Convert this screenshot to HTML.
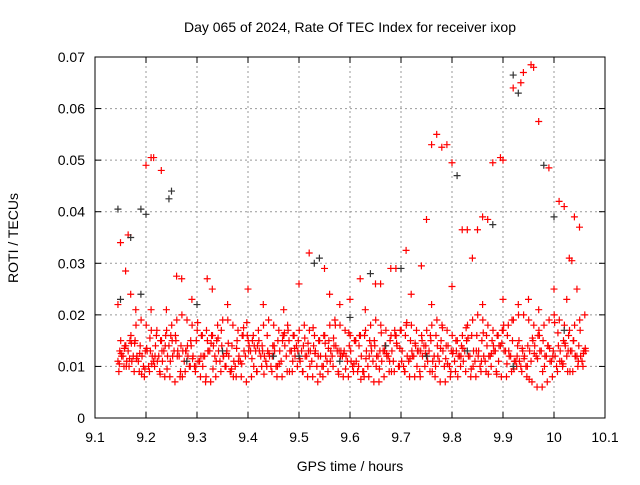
<!DOCTYPE html>
<html><head><meta charset="utf-8">
<style>
body{margin:0;background:#fff;}
svg text{font-family:"Liberation Sans",sans-serif;font-size:14px;fill:#000;}
</style></head>
<body>
<svg id="chart" width="640" height="480" xmlns="http://www.w3.org/2000/svg">
<text x="350" y="32" text-anchor="middle">Day 065 of 2024, Rate Of TEC Index for receiver ixop</text>
<text x="350" y="471" text-anchor="middle">GPS time / hours</text>
<text transform="translate(18,238) rotate(-90)" text-anchor="middle">ROTI / TECUs</text>
<g id="grid"></g>
<g id="marks"></g>
<rect x="95" y="57" width="510" height="361" fill="none" stroke="#000" stroke-width="1"/>
<g id="ticks"></g>
</svg>
<script>
const xTicks=[9.1,9.2,9.3,9.4,9.5,9.6,9.7,9.8,9.9,10,10.1];
const xTickLabels=["9.1","9.2","9.3","9.4","9.5","9.6","9.7","9.8","9.9","10","10.1"];
const yTicks=[0,0.01,0.02,0.03,0.04,0.05,0.06,0.07];
const yTickLabels=["0","0.01","0.02","0.03","0.04","0.05","0.06","0.07"];
const trackStart=9.145, trackStep=0.01;
const track1=[0.011,0.012,0.013,0.012,0.011,0.010,0.010,0.011,0.012,0.013,0.014,0.013,0.012,0.011,0.010,0.010,0.011,0.012,0.013,0.012,0.011,0.010,0.009,0.010,0.011,0.012,0.013,0.013,0.012,0.011,0.010,0.010,0.011,0.012,0.013,0.014,0.013,0.012,0.011,0.010,0.010,0.011,0.012,0.013,0.012,0.011,0.010,0.009,0.009,0.010,0.011,0.012,0.013,0.012,0.011,0.010,0.010,0.011,0.012,0.013,0.014,0.013,0.012,0.011,0.010,0.010,0.011,0.012,0.013,0.012,0.011,0.010,0.011,0.012,0.013,0.014,0.013,0.012,0.011,0.010,0.010,0.011,0.012,0.013,0.012,0.011,0.010,0.011,0.012,0.013,0.012,0.011];
const track2=[0.013,0.014,0.015,0.015,0.014,0.013,0.013,0.014,0.015,0.016,0.016,0.015,0.014,0.013,0.014,0.015,0.016,0.017,0.016,0.015,0.014,0.013,0.014,0.015,0.016,0.016,0.015,0.014,0.013,0.013,0.014,0.015,0.016,0.017,0.016,0.015,0.014,0.013,0.014,0.015,0.016,0.015,0.014,0.013,0.013,0.014,0.015,0.016,0.016,0.015,0.014,0.013,0.014,0.015,0.016,0.017,0.016,0.015,0.014,0.013,0.014,0.015,0.016,0.015,0.014,0.013,0.013,0.014,0.015,0.016,0.016,0.015,0.014,0.015,0.016,0.017,0.016,0.015,0.014,0.013,0.014,0.015,0.016,0.015,0.014,0.013,0.014,0.015,0.016,0.015,0.014,0.013];
const track3=[0.009,0.010,0.010,0.009,0.009,0.008,0.009,0.010,0.009,0.008,0.008,0.007,0.008,0.009,0.010,0.009,0.008,0.007,0.007,0.008,0.009,0.010,0.009,0.008,0.008,0.007,0.008,0.009,0.010,0.010,0.009,0.008,0.008,0.009,0.009,0.010,0.009,0.008,0.008,0.007,0.008,0.009,0.010,0.009,0.008,0.008,0.009,0.010,0.009,0.008,0.007,0.007,0.008,0.009,0.009,0.010,0.009,0.008,0.008,0.009,0.010,0.009,0.008,0.007,0.007,0.008,0.009,0.010,0.009,0.008,0.008,0.009,0.009,0.010,0.009,0.008,0.008,0.009,0.010,0.009,0.008,0.007,0.006,0.006,0.007,0.008,0.009,0.010,0.009,0.009,0.010,0.010];
const track4=[0.015,0.014,0.016,0.018,0.019,0.018,0.017,0.016,0.015,0.017,0.018,0.019,0.020,0.019,0.018,0.017,0.016,0.015,0.016,0.018,0.019,0.019,0.018,0.017,0.016,0.015,0.016,0.017,0.018,0.019,0.018,0.017,0.016,0.015,0.016,0.017,0.018,0.017,0.016,0.015,0.016,0.018,0.019,0.018,0.017,0.016,0.015,0.016,0.017,0.018,0.019,0.018,0.017,0.016,0.016,0.017,0.018,0.018,0.017,0.016,0.017,0.018,0.019,0.018,0.017,0.016,0.015,0.016,0.018,0.019,0.020,0.019,0.018,0.017,0.016,0.017,0.018,0.019,0.020,0.020,0.019,0.018,0.017,0.018,0.019,0.020,0.019,0.018,0.017,0.018,0.019,0.020];
const track5=[0.012,0.011,0.011,0.012,0.012,0.013,0.012,0.011,0.011,0.012,0.012,0.013,0.013,0.012,0.012,0.011,0.012,0.013,0.014,0.013,0.012,0.012,0.011,0.012,0.013,0.014,0.014,0.013,0.012,0.012,0.013,0.013,0.014,0.013,0.012,0.011,0.012,0.013,0.013,0.012,0.012,0.013,0.014,0.013,0.012,0.011,0.011,0.012,0.013,0.013,0.012,0.011,0.012,0.013,0.014,0.013,0.012,0.012,0.013,0.012,0.011,0.011,0.012,0.013,0.014,0.013,0.012,0.011,0.012,0.013,0.013,0.012,0.012,0.013,0.014,0.013,0.012,0.011,0.011,0.012,0.013,0.014,0.013,0.012,0.011,0.012,0.013,0.014,0.013,0.012,0.012,0.013];
const track6=[0.0105,0.0135,0.0115,0.0145,0.0125,0.0095,0.0155,0.0120,0.0085,0.0140,0.0110,0.0160,0.0090,0.0130,0.0150,0.0100,0.0120,0.0080,0.0145,0.0110,0.0170,0.0125,0.0095,0.0135,0.0105,0.0185,0.0115,0.0090,0.0140,0.0160,0.0120,0.0100,0.0150,0.0180,0.0110,0.0130,0.0090,0.0145,0.0175,0.0120,0.0100,0.0135,0.0155,0.0085,0.0125,0.0165,0.0105,0.0140,0.0080,0.0120,0.0150,0.0095,0.0130,0.0110,0.0170,0.0135,0.0090,0.0115,0.0145,0.0080,0.0125,0.0160,0.0100,0.0135,0.0115,0.0090,0.0150,0.0120,0.0175,0.0095,0.0130,0.0110,0.0160,0.0125,0.0085,0.0145,0.0105,0.0190,0.0120,0.0135,0.0100,0.0155,0.0115,0.0090,0.0140,0.0120,0.0165,0.0105,0.0130,0.0150,0.0110,0.0125];
const track7=[0.0125,0.0100,0.0145,0.0115,0.0085,0.0135,0.0105,0.0170,0.0130,0.0095,0.0150,0.0120,0.0080,0.0140,0.0115,0.0185,0.0100,0.0130,0.0095,0.0155,0.0120,0.0145,0.0080,0.0110,0.0175,0.0130,0.0100,0.0150,0.0085,0.0125,0.0140,0.0105,0.0165,0.0090,0.0135,0.0115,0.0155,0.0100,0.0125,0.0085,0.0145,0.0110,0.0180,0.0120,0.0095,0.0130,0.0150,0.0075,0.0115,0.0140,0.0100,0.0165,0.0125,0.0090,0.0145,0.0110,0.0185,0.0130,0.0100,0.0150,0.0120,0.0090,0.0140,0.0175,0.0105,0.0125,0.0080,0.0135,0.0155,0.0100,0.0120,0.0165,0.0085,0.0140,0.0110,0.0180,0.0130,0.0095,0.0150,0.0115,0.0075,0.0125,0.0160,0.0100,0.0135,0.0185,0.0110,0.0145,0.0090,0.0120,0.0170,0.0135];
const outlierTimes=[9.145,9.15,9.16,9.165,9.17,9.2,9.21,9.215,9.23,9.26,9.27,9.32,9.4,9.52,9.55,9.5,9.56,9.62,9.65,9.66,9.68,9.71,9.74,9.75,9.76,9.77,9.78,9.79,9.8,9.82,9.83,9.84,9.85,9.86,9.87,9.88,9.895,9.9,9.92,9.935,9.94,9.955,9.96,9.97,9.99,10.01,10.02,10.03,10.04,10.05,10.035,9.72,9.69,9.8,9.9,9.95,10.0,9.24,9.33,9.43,9.6,10.045,9.18,9.21,9.29,9.36,9.47,9.58,9.63,9.76,9.86,9.93,9.97,10.025];
const outlierValues=[0.022,0.034,0.0285,0.0355,0.024,0.049,0.0505,0.0505,0.048,0.0275,0.027,0.027,0.025,0.032,0.029,0.026,0.024,0.027,0.026,0.026,0.029,0.0325,0.0295,0.0385,0.053,0.055,0.0525,0.053,0.0495,0.0365,0.0365,0.031,0.0365,0.039,0.0385,0.0495,0.0505,0.050,0.064,0.065,0.067,0.0685,0.068,0.0575,0.0485,0.042,0.041,0.031,0.039,0.037,0.0305,0.024,0.029,0.0255,0.023,0.023,0.025,0.021,0.025,0.022,0.023,0.025,0.021,0.021,0.023,0.022,0.021,0.022,0.021,0.022,0.022,0.022,0.021,0.023];
const blackTimes=[9.145,9.2,9.19,9.17,9.245,9.25,9.53,9.54,9.92,9.93,9.98,10.0,9.81,9.88,9.7,9.64,9.15,9.19,9.3,9.6,9.35,9.45,9.58,9.67,9.75,9.83,9.92,10.02,9.28,9.5];
const blackValues=[0.0405,0.0395,0.0405,0.035,0.0425,0.044,0.030,0.031,0.0665,0.063,0.049,0.039,0.047,0.0375,0.029,0.028,0.023,0.024,0.022,0.0195,0.013,0.012,0.011,0.014,0.012,0.013,0.010,0.017,0.011,0.012];

const X0=95,X1=605,Y0=418,Y1=57;
function xs(v){return X0+(v-9.1)/1.0*(X1-X0);}
function ys(v){return Y0-(v/0.07)*(Y0-Y1);}
const NS='http://www.w3.org/2000/svg';
const grid=document.getElementById('grid'),ticks=document.getElementById('ticks'),marks=document.getElementById('marks');
function mk(tag,attrs,parent){const e=document.createElementNS(NS,tag);for(const k in attrs)e.setAttribute(k,attrs[k]);parent.appendChild(e);return e;}
xTicks.forEach((t,i)=>{const x=xs(t);
 if(i>0&&i<xTicks.length-1){const g=mk('line',{x1:x,x2:x,y1:Y0,y2:Y1,stroke:'#999','stroke-dasharray':'2,3'},grid);
 
 }
 mk('line',{x1:x,x2:x,y1:Y0,y2:Y0-6,stroke:'#000'},ticks);mk('line',{x1:x,x2:x,y1:Y1,y2:Y1+6,stroke:'#000'},ticks);
 const tx=mk('text',{x:x,y:Y0+24,'text-anchor':'middle'},ticks);tx.textContent=xTickLabels[i];
 
 });
yTicks.forEach((t,i)=>{const y=ys(t);
 if(i>0&&i<yTicks.length-1){const g=mk('line',{x1:X0,x2:X1,y1:y,y2:y,stroke:'#999','stroke-dasharray':'2,3'},grid);
 
 }
 mk('line',{x1:X0,x2:X0+6,y1:y,y2:y,stroke:'#000'},ticks);mk('line',{x1:X1,x2:X1-6,y1:y,y2:y,stroke:'#000'},ticks);
 const tx=mk('text',{x:X0-10,y:y+5,'text-anchor':'end'},ticks);tx.textContent=yTickLabels[i];
 
 });
function plus(t,v,color){const x=xs(t),y=ys(v);
 const p=mk('path',{d:`M${x-3.5},${y}H${x+3.5}M${x},${y-3.5}V${y+3.5}`,stroke:color,'stroke-width':1.2,fill:'none'},marks);
 
 }
const tracks=[track1,track2,track3,track4,track5,track6,track7];
const offsets=[0,0.004,0.002,0.006,0.008,0.003,0.007];
tracks.forEach((tr,k)=>{tr.forEach((v,i)=>{plus(trackStart+i*trackStep+offsets[k]*0.9,v,'#f00');});});
outlierTimes.forEach((t,i)=>plus(t,outlierValues[i],'#f00'));
blackTimes.forEach((t,i)=>plus(t,blackValues[i],'#333'));
</script>
</body></html>
